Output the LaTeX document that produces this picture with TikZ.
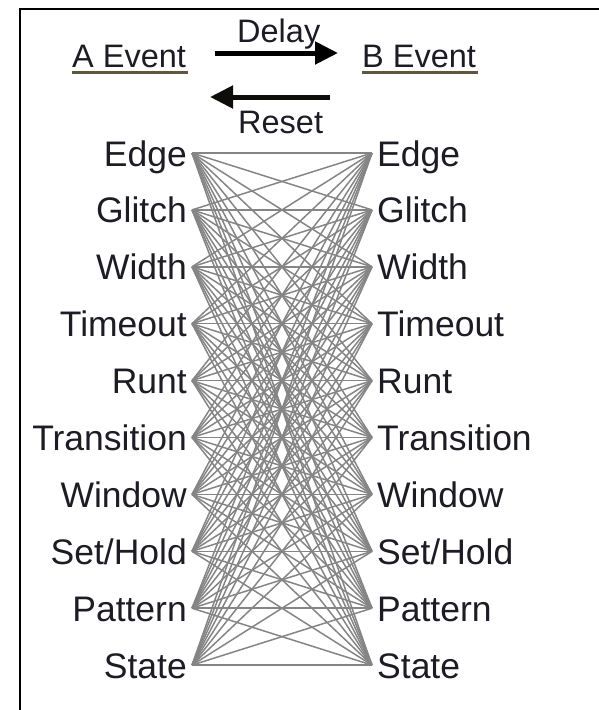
\documentclass[tikz,border=0pt]{standalone}
\usepackage{fontspec}
\setmainfont{Liberation Sans}
\usetikzlibrary{arrows.meta}
\definecolor{olivel}{HTML}{5C5A3A}
\definecolor{txt}{HTML}{1C1C24}
\definecolor{meshgray}{HTML}{858585}
\begin{document}
\begin{tikzpicture}[x=1pt,y=-1pt,
  lbl/.style={font=\fontsize{35.5}{40}\selectfont, text=txt, inner sep=0pt},
  hdr/.style={font=\fontsize{32.5}{36}\selectfont, text=txt, inner sep=0pt},
  link/.style={draw=meshgray, line width=1.5pt},
  ul/.style={draw=olivel, line width=2.2pt},
  bigarrow/.style={line width=5pt, -{Triangle[length=23pt,width=22pt]}}]
\useasboundingbox (0,0) rectangle (599,710);
\draw[line width=2pt] (20,711) -- (20,8.5) -- (600,8.5);
% header
\node[hdr, anchor=base west] (aev) at (72,67) {A Event};
\draw[ul] ([yshift=-5.5pt]aev.base west) -- ([yshift=-5.5pt,xshift=2pt]aev.base east);
\node[hdr, anchor=base west] (bev) at (362,67) {B Event};
\draw[ul] ([yshift=-5.5pt]bev.base west) -- ([yshift=-5.5pt,xshift=2pt]bev.base east);
\node[hdr, anchor=base west] (delay) at (237,42) {Delay};
\node[hdr, anchor=base west] (reset) at (238,133) {Reset};
\coordinate (ds) at (215,53);
\coordinate (de) at (338,53);
\draw[bigarrow, black] (ds) -- (de);
\coordinate (rs) at (330,97);
\coordinate (re) at (210,97);
\draw[bigarrow, draw=black!85!olivel, fill=black] (rs) -- (re);
% points
\foreach \i in {1,...,10}{
  \pgfmathsetmacro{\yy}{153+(\i-1)*56.9}
  \coordinate (L\i) at (192,\yy);
  \coordinate (R\i) at (372,\yy);
}
% links
\foreach \i in {1,...,10}{
  \foreach \j in {1,...,10}{
    \draw[link] (L\i) -- (R\j);
  }
}
% labels
\foreach \i/\t in {1/Edge,2/Glitch,3/Width,4/Timeout,5/Runt,6/Transition,7/Window,8/Set\slash Hold,9/Pattern,10/State}{
  \node[lbl, anchor=base east] (la\i) at ([yshift=-13pt]L\i -| 187,0) {\t};
  \node[lbl, anchor=base west] (lb\i) at ([yshift=-13pt]R\i -| 377,0) {\t};
}
\end{tikzpicture}
\end{document}
